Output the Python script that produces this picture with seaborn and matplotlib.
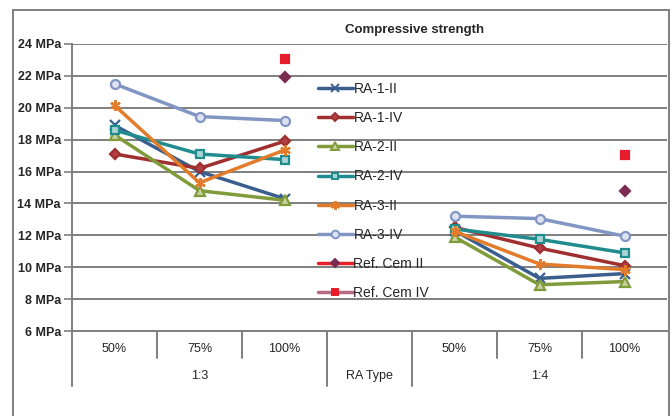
import numpy as np
import pandas as pd
import matplotlib
matplotlib.use("Agg")
import matplotlib.pyplot as plt
import seaborn as sns
from matplotlib.lines import Line2D
from matplotlib.patches import Rectangle
import matplotlib.transforms as mtransforms

nan = np.nan
categories = ["50%", "75%", "100%", "", "50%", "75%", "100%"]
group_labels = ["1:3", "RA Type", "1:4"]
series_names = ["RA-1-II", "RA-1-IV", "RA-2-II", "RA-2-IV", "RA-3-II", "RA-3-IV",
                "Ref. Cem II", "Ref. Cem IV"]
ra_1_ii = [18.9, 16.0, 14.3, nan, 12.3, 9.3, 9.6]
ra_1_iv = [17.1, 16.2, 17.9, nan, 12.5, 11.2, 10.1]
ra_2_ii = [18.3, 14.8, 14.2, nan, 11.9, 8.9, 9.1]
ra_2_iv = [18.6, 17.1, 16.75, nan, 12.4, 11.75, 10.9]
ra_3_ii = [20.15, 15.3, 17.35, nan, 12.25, 10.2, 9.85]
ra_3_iv = [21.5, 19.45, 19.2, nan, 13.2, 13.05, 11.95]
ref_cem_ii = [nan, nan, 21.95, nan, nan, nan, 14.75]
ref_cem_iv = [nan, nan, 23.05, nan, nan, nan, 17.05]
yticks = [6, 8, 10, 12, 14, 16, 18, 20, 22, 24]

values = [ra_1_ii, ra_1_iv, ra_2_ii, ra_2_iv, ra_3_ii, ra_3_iv, ref_cem_ii, ref_cem_iv]
line_colors = ["#3A5F8E", "#A0302F", "#809C3A", "#218C8E", "#E27B2A", "#8296C4",
               "#E8202A", "#B86A82"]
marker_colors = ["#3A5F8E", "#A0302F", "#809C3A", "#218C8E", "#E27B2A", "#8296C4",
                 "#7C2C50", "#E41C2C"]
face_colors = ["none", "#B04048", "#C8D0A0", "#A8D4D4", "none", "#DCE2F0",
               "#7C2C50", "#E41C2C"]
markers = ["x", "D", "^", "s", (6, 2, 0), "o", "D", "s"]
msizes = [6.5, 5, 6.5, 5.5, 7.5, 6.5, 5, 5.5]

plt.rcParams["font.family"] = ["Liberation Sans", "DejaVu Sans"]
sns.set_style("white")
plt.rcParams["font.family"] = ["Liberation Sans", "DejaVu Sans"]

W, H = 672, 416
fig = plt.figure(figsize=(W / 100, H / 100), dpi=100)
L, R, T, B = 72, 667, 44, 331
ax = fig.add_axes([L / W, 1 - B / H, (R - L) / W, (B - T) / H])

xpos = np.arange(len(categories))
for name, vals, lc, mc, fc, mk, ms in zip(series_names, values, line_colors,
                                            marker_colors, face_colors, markers, msizes):
    for seg in (slice(0, 3), slice(4, 7)):
        xs = xpos[seg]
        ys = np.array(vals[seg], dtype=float)
        ok = ~np.isnan(ys)
        if ok.sum() == 0:
            continue
        df = pd.DataFrame({"x": xs[ok], "y": ys[ok]})
        sns.lineplot(data=df, x="x", y="y", ax=ax, color=lc, linewidth=2.5,
                     marker=mk, markersize=ms, markeredgecolor=mc,
                     markerfacecolor=fc, markeredgewidth=1.6,
                     estimator=None, errorbar=None, legend=False, zorder=3)

ax.set_xlim(-0.5, 6.5)
ax.set_ylim(6, 24)
ax.set_yticks(yticks)
ax.set_yticklabels([f"{v} MPa" for v in yticks], fontsize=9, fontweight="bold")
ax.set_xticks([])
ax.set_xlabel("")
ax.set_ylabel("")
ax.grid(axis="y", color="#7F7F7F", linewidth=1.4)
ax.set_axisbelow(True)
ax.tick_params(axis="y", which="major", left=True, length=6, width=1.2,
               color="#7F7F7F", pad=2)
for s in ["left", "bottom"]:
    ax.spines[s].set_color("#7F7F7F")
    ax.spines[s].set_linewidth(1.4)
ax.spines["top"].set_visible(False)
ax.spines["right"].set_visible(False)

# multi-level category axis
trans = mtransforms.blended_transform_factory(ax.transData, fig.transFigure)
def fy(py):
    return 1 - py / H
for i, c in enumerate(categories):
    if c:
        t = fig.text(0, 0, c, transform=trans, fontsize=9, ha="center", va="center")
        t.set_position((xpos[i], fy(349)))
for xb, long in [(-0.5, True), (0.5, False), (1.5, False), (2.5, True), (3.5, True),
                 (4.5, False), (5.5, False)]:
    ax.add_line(Line2D([xb, xb], [fy(B), fy(386 if long else 358)], transform=trans,
                       color="#7F7F7F", linewidth=1.4, clip_on=False))
for xc, g in zip([1, 3, 5], group_labels):
    t = fig.text(0, 0, g, transform=trans, fontsize=9, ha="center", va="center")
    t.set_position((xc, fy(376)))

# title
fig.text(415 / W, fy(30.5), "Compressive strength", fontsize=9.5, fontweight="bold",
         ha="center", va="center")

# outer frame
fig.patches.append(Rectangle((13 / W, -0.05), (669 - 13) / W, 1.05 - 10 / H,
                             transform=fig.transFigure, fill=False,
                             edgecolor="#7F7F7F", linewidth=1.4))

handles = []
for name, lc, mc, fc, mk, ms in zip(series_names, line_colors, marker_colors,
                                    face_colors, markers, msizes):
    handles.append(Line2D([0], [0], color=lc, linewidth=2.5, marker=mk,
                          markersize=ms * 0.85, markeredgecolor=mc,
                          markerfacecolor=fc, markeredgewidth=1.4))
ax.legend(handles, series_names, loc="upper left",
          bbox_to_anchor=((318 - L) / (R - L), (B - 82) / (B - T)),
          frameon=False, fontsize=10, handlelength=2.5, handletextpad=0.05,
          borderpad=0, borderaxespad=0, labelspacing=1.09)

fig.savefig("out.png", dpi=100)
